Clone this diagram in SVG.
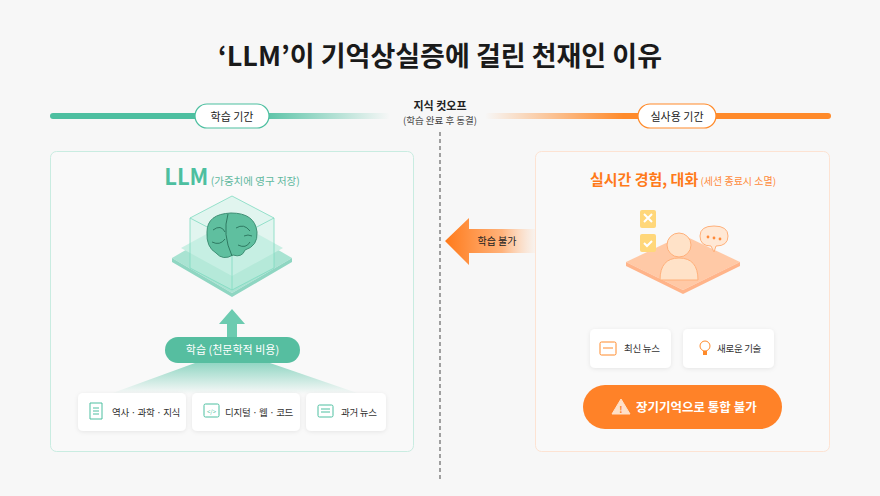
<svg xmlns="http://www.w3.org/2000/svg" width="880" height="496" viewBox="0 0 880 496">
<defs>
<style>
text{font-family:"Noto Sans CJK KR","Noto Sans",sans-serif;}
.card{fill:#fff;filter:url(#sh);}
.ct{font-size:9.5px;fill:#333;letter-spacing:-0.3px;}
</style>
<filter id="sh" x="-20%" y="-30%" width="140%" height="160%"><feDropShadow dx="0" dy="1" stdDeviation="2" flood-color="#000" flood-opacity="0.08"/></filter>
<linearGradient id="gl" x1="0" x2="1"><stop offset="0" stop-color="#4dbfa0"/><stop offset="0.6" stop-color="#4dbfa0"/><stop offset="1" stop-color="#4dbfa0" stop-opacity="0"/></linearGradient>
<linearGradient id="or" x1="0" x2="1"><stop offset="0" stop-color="#ff8a2a" stop-opacity="0"/><stop offset="0.4" stop-color="#ff8a2a"/><stop offset="1" stop-color="#ff8a2a"/></linearGradient>
<linearGradient id="arr" x1="0" x2="1"><stop offset="0" stop-color="#ff7a1a"/><stop offset="0.6" stop-color="#ffb27a"/><stop offset="1" stop-color="#ffd6b8" stop-opacity="0"/></linearGradient>
<linearGradient id="fan" x1="0" y1="0" x2="0" y2="1"><stop offset="0" stop-color="#4dbfa0" stop-opacity="0.6"/><stop offset="1" stop-color="#4dbfa0" stop-opacity="0"/></linearGradient>
</defs>
<rect width="880" height="496" fill="#f7f7f7"/>
<text x="440" y="66" text-anchor="middle" font-size="27" font-weight="700" fill="#1a1a1a">‘LLM’이 기억상실증에 걸린 천재인 이유</text>

<g id="timeline">
<rect x="50" y="113" width="340" height="6" rx="3" fill="url(#gl)"/>
<rect x="485" y="113" width="346" height="6" rx="3" fill="url(#or)"/>
<rect x="195" y="104" width="74" height="24" rx="12" fill="#fff" stroke="#4dbfa0" stroke-width="1.2"/>
<text x="232" y="120.5" text-anchor="middle" font-size="11" fill="#222">학습 기간</text>
<rect x="638" y="104" width="78" height="24" rx="12" fill="#fff" stroke="#ff8a2a" stroke-width="1.2"/>
<text x="677" y="120.5" text-anchor="middle" font-size="11" fill="#222">실사용 기간</text>
<text x="440" y="110" text-anchor="middle" font-size="11" font-weight="700" fill="#222">지식 컷오프</text>
<text x="440" y="124" text-anchor="middle" font-size="9.5" fill="#444">(학습 완료 후 동결)</text>
</g>

<g id="llm-panel">
<rect x="50.5" y="151.5" width="363" height="300" rx="6" fill="#f9f9f9" stroke="#c9ece1"/>
<text x="232" y="185" text-anchor="middle"><tspan font-size="22" font-weight="700" fill="#4dbfa0">LLM</tspan><tspan font-size="10.5" fill="#5fb89e"> (가중치에 영구 저장)</tspan></text>
<path d="M232 223 L292 258 L232 293 L172 258 Z" fill="#a9e3d2"/>
<path d="M172 258 L172 262 L232 297 L292 262 L292 258 L232 293 Z" fill="#8fd6c2"/>
<path d="M232 220 L283 248 L232 276 L181 248 Z" fill="#c9efe3"/>
<g fill="#c3efe2" fill-opacity="0.45" stroke="#7fdac0" stroke-width="0.8">
<path d="M232 196 L274 218 L274 268 L232 290 L190 268 L190 218 Z"/>
<path d="M190 218 L232 240 L274 218 M232 240 L232 290" fill="none"/>
</g>
<path d="M207 232 q0 -18 24 -19 q24 0 26 19 q1 14 -12 18 q-3 8 -12 5 q-10 6 -17 -2 q-10 -6 -9 -21 z" fill="#5fbf9f" stroke="#3f8f75"/>
<path d="M228 214 q-6 20 4 42 M213 230 q8 -6 12 2 M236 228 q8 -5 14 3 M212 242 q8 4 13 -3 M238 245 q8 4 12 -3 M244 236 q4 -2 8 0" stroke="#2f7a62" fill="none"/>
<rect x="165" y="337" width="135" height="26" rx="13" fill="#56bea0"/>
<text x="232.5" y="354" text-anchor="middle" font-size="11" fill="#fff">학습 (천문학적 비용)</text>
</g>

<g id="connectors">
<line x1="440" y1="132" x2="440" y2="482" stroke="#666" stroke-width="1.2" stroke-dasharray="4 3"/>
<path d="M445 241 L469 218 L469 229 L540 229 L540 253 L469 253 L469 265 Z" fill="url(#arr)"/>
<text x="497" y="245" text-anchor="middle" font-size="10" fill="#222">학습 불가</text>
<path d="M232 309 L245 324 L237 324 L237 337 L227 337 L227 324 L219 324 Z" fill="#6ccbb0"/>
<path d="M195 363 L270 363 L360 394 L110 394 Z" fill="url(#fan)"/>
</g>

<g id="card-history"><rect class="card" x="78" y="393" width="108" height="38" rx="5"/>
<path d="M90 403 h12 v16 h-12 z M93 408 h6 M93 411 h6 M93 414 h6" stroke="#4dbfa0" fill="none"/>
<text class="ct" x="112" y="416">역사 · 과학 · 지식</text></g>
<g id="card-digital"><rect class="card" x="192" y="393" width="108" height="38" rx="5"/>
<rect x="204" y="404" width="15" height="13" rx="1.5" stroke="#4dbfa0" fill="none"/><text x="211.5" y="414" text-anchor="middle" font-size="6" fill="#4dbfa0">&lt;/&gt;</text>
<text class="ct" x="225" y="416">디지털 · 웹 · 코드</text></g>
<g id="card-news"><rect class="card" x="306" y="393" width="80" height="38" rx="5"/>
<rect x="318" y="405" width="15" height="12" rx="1.5" stroke="#4dbfa0" fill="none"/><path d="M321 409 h9 M321 412 h9" stroke="#4dbfa0"/>
<text class="ct" x="341" y="416">과거 뉴스</text></g>

<g id="exp-panel">
<rect x="535.5" y="151.5" width="294" height="300" rx="6" fill="#f9f9f9" stroke="#fde3d3"/>
<text x="683" y="185" text-anchor="middle"><tspan font-size="15" font-weight="700" fill="#ff7a1a">실시간 경험, 대화</tspan><tspan font-size="10" fill="#ff8a3a"> (세션 종료시 소멸)</tspan></text>
<path d="M683 235 L740 262 L683 290 L626 262 Z" fill="#ffc9a6"/>
<path d="M626 262 L626 266 L683 294 L740 266 L740 262 L683 290 Z" fill="#ffb48a"/>
<rect x="640" y="210" width="16" height="18" rx="2" fill="#ffd77a"/><path d="M644 214 l8 8 M652 214 l-8 8" stroke="#fff" stroke-width="2"/>
<rect x="640" y="234" width="16" height="18" rx="2" fill="#ffd77a"/><path d="M644 243 l3 3 l5 -5" stroke="#fff" stroke-width="2" fill="none"/>
<circle cx="679" cy="245" r="12" fill="#ffe2c8" stroke="#ffb07a"/>
<path d="M660 280 q0 -22 19 -22 q19 0 19 22 Z" fill="#ffe2c8" stroke="#ffb07a"/>
<path d="M700 236 q0 -10 14 -10 q14 0 14 10 q0 10 -12 10 l-2 6 l-3 -6 q-11 0 -11 -10 z" fill="#ffe8d5" stroke="#ffb07a"/>
<circle cx="708" cy="237" r="1.4" fill="#ff8a3a"/><circle cx="714" cy="238" r="1.4" fill="#ff8a3a"/><circle cx="720" cy="239" r="1.4" fill="#ff8a3a"/>
</g>
<g id="card-latest"><rect class="card" x="590" y="329" width="81" height="39" rx="5"/>
<rect x="600" y="342" width="16" height="13" rx="1.5" stroke="#ff8a2a" fill="none"/><path d="M603 348 h10" stroke="#ff8a2a"/>
<text class="ct" x="624" y="352">최신 뉴스</text></g>
<g id="card-tech"><rect class="card" x="683" y="329" width="91" height="39" rx="5"/>
<circle cx="705" cy="346" r="5" stroke="#ff8a2a" fill="none"/><rect x="703" y="351" width="4" height="4" fill="#ff8a2a"/>
<text class="ct" x="717" y="352">새로운 기술</text></g>
<g id="btn-fail">
<rect x="583" y="385" width="199" height="44" rx="22" fill="#ff8228"/>
<path d="M621 399 L630 414 L612 414 Z" fill="#ffe0c8" stroke="#ffe0c8" stroke-linejoin="round"/><text x="621" y="413" text-anchor="middle" font-size="9" font-weight="700" fill="#ff8228">!</text>
<text x="636" y="412" font-size="12.5" font-weight="700" fill="#fff">장기기억으로 통합 불가</text>
</g>
</svg>
